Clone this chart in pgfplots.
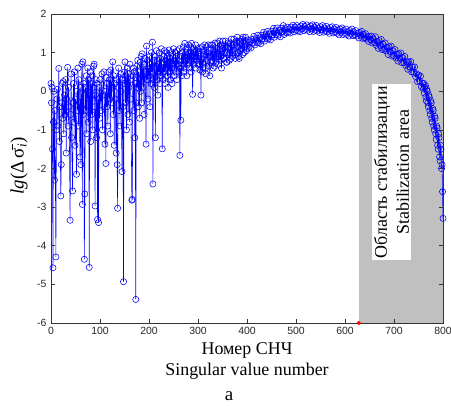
\documentclass[border=0pt]{standalone}
\usepackage{pgfplots}
\pgfplotsset{compat=1.18}
\usepackage{fontspec}
\setmainfont{Liberation Serif}
\newfontfamily\tickfont{Liberation Sans}
\definecolor{shade}{RGB}{192,192,192}
\definecolor{mblue}{RGB}{0,0,255}
\begin{document}
\begin{tikzpicture}[x=1bp,y=1bp]
\path[use as bounding box] (-51,-82) rectangle (400,323);
\begin{axis}[
  at={(0,0)}, anchor=south west,
  scale only axis, width=392bp, height=309bp,
  xmin=0, xmax=800, ymin=-6, ymax=2,
  xtick={0,100,...,800}, ytick={-6,-5,...,2},
  tick align=inside, major tick length=4bp,
  axis line style={line width=0.7bp, black!80},
  tick style={line width=0.6bp, black!80},
  tick label style={font=\tickfont\fontsize{10.5}{12}\selectfont, text=black!85},
  /pgf/number format/assume math mode=true,
  xticklabel style={yshift=-1bp},
  yticklabel style={xshift=-1bp},
  axis on top, clip=false,
]
\addplot[fill=shade, draw=none] coordinates {(628,-6) (800,-6) (800,2) (628,2)} -- cycle;
\addplot[mblue, line width=0.55bp, mark=o, mark size=3.1bp, mark options={line width=0.55bp}] coordinates {
(0,0.2)(1,-0.3)(2,0.1)(3,-1.5)(4,-4.57)(5,-0.8)(6,0.0)(7,-2.3)(8,-0.5)(10,-4.29)
(11,-1.0)(12,-0.2)(13,0.05)(14,-0.9)(16,0.59)(17,-1.3)(18,-0.4)(20,-2.71)(21,-1.9)(22,-0.3)
(23,0.2)(24,-0.7)(25,0.25)(26,-1.1)(28,-0.1)(29,-0.6)(30,0.3)(31,-1.6)(32,-0.2)(34,0.62)
(35,-0.9)(36,0.1)(37,-0.4)(39,-3.34)(40,-0.6)(41,0.45)(42,-1.2)(44,-2.58)(45,-0.3)(46,0.2)
(47,-0.8)(48,0.5)(49,-1.4)(50,-0.2)(52,-2.15)(53,0.0)(54,-0.5)(55,0.6)(56,-0.9)(57,0.3)
(58,-0.3)(59,-1.7)(60,0.1)(61,-1.9)(62,-0.4)(63,0.7)(64,-2.93)(65,0.76)(66,-0.6)(67,0.2)
(68,-4.35)(69,-2.66)(70,0.1)(71,-0.5)(72,0.4)(73,-1.1)(74,0.0)(75,0.6)(76,-0.8)(77,0.3)
(78,-4.56)(79,-0.2)(80,0.5)(81,-1.3)(82,0.2)(83,-0.6)(84,0.4)(85,-1.0)(86,0.1)(87,0.65)
(88,0.7)(89,-0.4)(90,-2.97)(91,-0.1)(92,0.3)(93,-1.2)(94,0.2)(95,-3.32)(96,-0.2)(97,-3.4)
(98,0.1)(99,-0.7)(100,0.3)(102,-0.5)(104,0.45)(105,-1.0)(106,-0.1)(108,0.5)(110,-1.37)(111,0.0)
(112,-1.87)(113,0.35)(114,-0.4)(115,0.2)(116,-0.9)(118,0.5)(119,-0.2)(120,0.3)(121,-1.1)(122,0.55)
(123,-0.3)(124,0.1)(126,0.76)(127,-0.6)(128,0.4)(129,-1.4)(130,0.2)(131,-0.2)(133,-1.6)(134,0.3)
(135,-1.9)(136,-3.03)(137,0.1)(138,0.6)(139,-0.5)(140,0.35)(141,-0.9)(142,0.45)(143,0.0)(145,-2.08)
(146,0.3)(147,-0.4)(148,-4.93)(149,0.2)(150,0.5)(151,0.76)(152,-0.3)(153,0.4)(154,-1.0)(155,0.25)
(156,0.6)(157,-0.6)(158,0.45)(159,0.1)(160,-0.8)(161,0.7)(162,0.3)(163,-0.2)(165,-2.82)(166,-2.8)
(167,0.4)(168,0.6)(169,-0.5)(170,0.5)(171,-1.2)(172,0.2)(173,-5.39)(174,-0.3)(175,0.65)(176,0.1)
(177,0.8)(178,-0.4)(179,0.5)(180,0.3)(181,-0.7)(182,0.75)(183,0.0)(184,0.9)(185,-0.3)(186,0.97)
(187,0.4)(188,0.1)(189,0.7)(190,-0.6)(191,0.5)(192,0.85)(194,-1.37)(195,1.17)(196,0.3)(197,0.8)
(198,-0.2)(199,0.6)(200,0.4)(201,0.9)(202,-0.4)(203,0.7)(204,0.2)(205,1.0)(206,0.5)(207,1.27)
(208,-2.4)(209,0.3)(210,0.8)(211,0.1)(212,0.9)(213,-1.2)(214,0.6)(215,1.05)(216,0.3)(217,0.8)
(218,-0.1)(219,0.7)(220,0.5)(221,1.0)(222,0.2)(223,0.85)(224,0.4)(225,1.1)(226,0.6)(227,-1.49)
(228,0.7)(229,0.3)(230,0.9)(231,0.5)(232,1.05)(233,0.2)(234,0.8)(235,0.6)(236,1.0)(237,0.4)
(238,0.9)(239,0.1)(240,0.7)(241,1.07)(242,0.5)(243,0.85)(244,0.3)(245,1.0)(246,0.6)(247,0.2)
(248,0.9)(249,0.7)(250,1.1)(251,0.4)(252,0.8)(253,0.6)(254,1.0)(255,0.5)(256,0.9)(257,0.3)
(258,1.05)(259,0.7)(260,0.8)(261,0.5)(262,1.1)(263,-1.66)(264,0.6)(265,-0.75)(266,0.9)(267,0.4)
(268,1.0)(269,0.7)(270,1.15)(271,0.5)(272,0.9)(273,1.24)(274,0.6)(275,1.0)(276,0.8)(277,0.4)
(278,1.1)(279,0.7)(280,0.9)(281,1.2)(282,0.6)(283,1.0)(284,0.8)(285,1.15)(286,0.5)(287,1.24)
(288,0.9)(289,-0.08)(290,0.8)(291,1.1)(292,0.7)(293,1.0)(294,0.9)(295,1.2)(296,0.6)(297,1.05)
(298,0.8)(299,1.1)(300,0.7)
(301,1.0)(302,0.9)(303,0.7)(304,0.55)(305,1.1)(306,-0.1)(307,0.85)(308,1.15)(309,0.5)(310,0.75)
(311,0.7)(312,1.05)(313,0.95)(314,1.2)(315,0.6)(316,0.45)(317,1.15)(318,0.95)(319,0.8)(320,1.0)
(321,1.2)(322,0.65)(323,0.9)(324,0.4)(325,0.75)(326,1.1)(327,1.2)(328,0.8)(329,0.8)(330,1.2)
(331,0.6)(332,0.95)(333,1.0)(334,0.65)(335,1.25)(336,1.05)(337,0.75)(338,0.85)(339,1.1)(340,1.25)
(341,0.9)(342,0.7)(343,1.05)(344,1.3)(345,0.8)(346,0.9)(347,1.2)(348,0.6)(349,0.95)(350,1.1)
(351,1.3)(352,0.85)(353,0.85)(354,1.2)(355,1.0)(356,1.3)(357,1.15)(358,0.75)(359,0.75)(360,1.0)
(361,1.25)(362,1.15)(363,0.95)(364,0.8)(365,1.1)(366,1.25)(367,0.85)(368,1.35)(369,1.2)(370,0.9)
(371,1.0)(372,1.1)(373,1.35)(374,1.2)(375,1.05)(376,0.85)(377,0.95)(378,1.3)(379,1.25)(380,1.4)
(381,1.15)(382,1.0)(383,0.9)(384,0.85)(385,1.3)(386,1.25)(387,1.05)(388,1.1)(389,1.2)(390,1.35)
(391,0.95)(392,1.4)(393,1.3)(394,1.0)(395,1.15)(396,1.2)(397,1.4)(398,1.3)(399,1.05)(400,1.1)
(402,1.33)(404,1.14)(406,1.27)(408,1.12)(410,1.34)(412,1.25)(414,1.42)(416,1.20)(418,1.36)(420,1.26)
(422,1.45)(424,1.26)(426,1.38)(428,1.23)(430,1.45)(432,1.36)(434,1.53)(436,1.30)(438,1.46)(440,1.36)
(442,1.55)(444,1.36)(446,1.48)(448,1.33)(450,1.55)(452,1.46)(454,1.63)(456,1.40)(458,1.56)(460,1.46)
(462,1.64)(464,1.45)(466,1.57)(468,1.41)(470,1.63)(472,1.54)(474,1.70)(476,1.47)(478,1.62)(480,1.52)
(482,1.66)(484,1.53)(486,1.61)(488,1.51)(490,1.66)(492,1.59)(494,1.71)(496,1.54)(498,1.66)(500,1.58)
(502,1.70)(504,1.56)(506,1.65)(508,1.54)(510,1.69)(512,1.62)(514,1.73)(516,1.57)(518,1.68)(520,1.60)
(522,1.72)(524,1.58)(526,1.65)(528,1.54)(530,1.69)(532,1.62)(534,1.72)(536,1.55)(538,1.66)(540,1.58)
(542,1.70)(544,1.56)(546,1.63)(548,1.52)(550,1.67)(552,1.60)(554,1.70)(556,1.53)(558,1.64)(560,1.56)
(562,1.68)(564,1.54)(566,1.61)(568,1.50)(570,1.65)(572,1.57)(574,1.67)(576,1.51)(578,1.61)(580,1.53)
(582,1.65)(584,1.50)(586,1.58)(588,1.46)(590,1.61)(592,1.53)(594,1.64)(596,1.47)(598,1.57)(600,1.49)
(602,1.61)(604,1.47)(606,1.54)(608,1.43)(610,1.57)(612,1.50)(614,1.61)(616,1.44)(618,1.54)(620,1.46)
(622,1.57)(624,1.43)(626,1.50)(628,1.38)(630,1.52)(632,1.45)(634,1.55)(636,1.37)(638,1.47)(640,1.38)
(642,1.49)(644,1.35)(646,1.41)(648,1.29)(650,1.42)(652,1.34)(654,1.43)(656,1.25)(658,1.35)(660,1.26)
(662,1.41)(664,1.19)(666,1.29)(668,1.11)(670,1.31)(672,1.19)(674,1.34)(676,1.08)(678,1.22)(680,1.09)
(682,1.25)(684,1.04)(686,1.13)(688,0.95)(690,1.15)(692,1.03)(694,1.17)(696,0.91)(698,1.05)(700,0.92)
(702,1.08)(704,0.86)(706,0.96)(708,0.78)(710,0.97)(712,0.85)(714,0.99)(716,0.74)(718,0.87)(720,0.74)
(722,0.90)(724,0.67)(726,0.76)(728,0.57)(730,0.76)(732,0.63)(734,0.77)(736,0.50)(738,0.63)(740,0.49)
(742,0.63)(744,0.38)(746,0.45)(748,0.25)(750,0.42)(752,0.27)(754,0.39)(756,0.11)(758,0.21)(760,0.06)
(761,0.2)(762,-0.05)(763,0.1)(764,0.15)(765,-0.15)(766,-0.25)(767,0.05)(768,0.0)(769,-0.3)(770,-0.4)
(771,-0.1)(772,-0.15)(773,-0.5)(774,-0.6)(775,-0.25)(776,-0.3)(777,-0.7)(778,-0.8)(779,-0.45)(780,-0.5)
(781,-0.9)(782,-1.0)(783,-0.65)(784,-0.7)(785,-1.1)(786,-1.25)(787,-0.9)(788,-0.95)(789,-1.4)(790,-1.5)
(791,-1.1)(792,-1.2)(793,-1.7)(794,-1.8)(795,-1.4)(796,-1.5)(797,-2.0)(798,-1.9)(799,-2.6)(800,-3.29)
};
\addplot[only marks, mark=*, red, mark size=1.8bp] coordinates {(628,-6)};
\node[rotate=90, fill=white, inner sep=2bp, align=center, font=\fontsize{18}{22}\selectfont]
  at (axis cs:695,-2.1) {Область стабилизации\\Stabilization area};
\end{axis}
\node[rotate=90, font=\fontsize{19}{22}\selectfont] at (-32,157) {\textit{lg}(Δ\,σ̄\textsubscript{\textit{i}})};
\node[anchor=base, font=\fontsize{18}{21}\selectfont] at (196,-31) {Номер СНЧ};
\node[anchor=base, font=\fontsize{18}{21}\selectfont] at (196,-52) {Singular value number};
\node[anchor=base, font=\fontsize{19}{22}\selectfont] at (178,-77) {a};
\end{tikzpicture}
\end{document}
